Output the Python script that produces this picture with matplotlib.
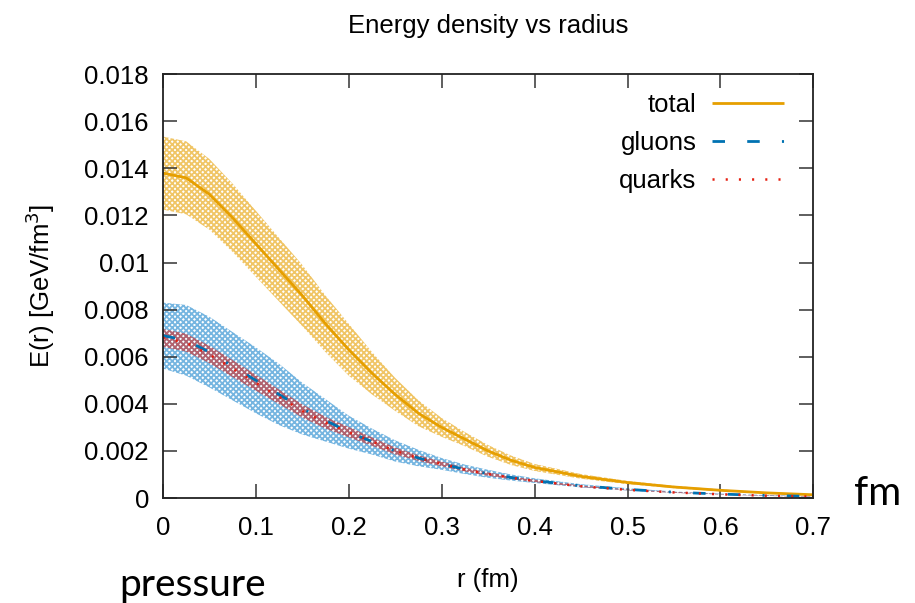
import numpy as np
import matplotlib
matplotlib.use("Agg")
import matplotlib.pyplot as plt

# values (GeV/fm^3)
r = [0.0, 0.025, 0.05, 0.075, 0.1, 0.125, 0.15, 0.175, 0.2, 0.225, 0.25, 0.275,
     0.3, 0.325, 0.35, 0.375, 0.4, 0.45, 0.5, 0.55, 0.6, 0.65, 0.7]

total = [0.0138, 0.0136, 0.0129, 0.0119, 0.0108, 0.0097, 0.0086, 0.0074,
         0.0063, 0.0053, 0.0044, 0.0036, 0.0030, 0.0025, 0.0020, 0.0016,
         0.0013, 0.00092, 0.00066, 0.00047, 0.00033, 0.00022, 0.00014]
total_err = [0.00155, 0.00155, 0.0015, 0.00145, 0.0014, 0.00135, 0.0013, 0.0012,
             0.0011, 0.0009, 0.0007, 0.00055, 0.0004, 0.0003, 0.00025, 0.0002,
             0.00015, 0.0001, 0.00007, 0.00005, 0.00004, 0.00003, 0.00002]

gluons = [0.0069, 0.0067, 0.0062, 0.0056, 0.0050, 0.0044, 0.0038, 0.0033,
          0.0028, 0.0024, 0.0020, 0.0017, 0.00145, 0.00122, 0.00103, 0.00087,
          0.00074, 0.00052, 0.00037, 0.00025, 0.00017, 0.00011, 0.00007]
gluons_err = [0.0014, 0.0015, 0.0015, 0.00145, 0.0014, 0.0013, 0.0011, 0.0009,
              0.0007, 0.00055, 0.00045, 0.00035, 0.00025, 0.0002, 0.00017, 0.00013,
              0.0001, 0.00007, 0.00005, 0.00003, 0.00002, 0.00002, 0.00001]

quarks = [0.0068, 0.0066, 0.0061, 0.0055, 0.0049, 0.0043, 0.0037, 0.0032,
          0.0028, 0.0024, 0.0020, 0.0017, 0.00145, 0.00121, 0.00102, 0.00086,
          0.00073, 0.0005, 0.00035, 0.00024, 0.00016, 0.0001, 0.00006]
quarks_err = [0.00038, 0.00038, 0.00037, 0.00036, 0.00034, 0.00031, 0.00028, 0.00025,
              0.00022, 0.00018, 0.00015, 0.00012, 0.0001, 0.00008, 0.00007, 0.00006,
              0.00005, 0.00003, 0.00002, 0.00002, 0.00001, 0.00001, 0.00001]

xticks = [0, 0.1, 0.2, 0.3, 0.4, 0.5, 0.6, 0.7]
xticklabels = ["0", "0.1", "0.2", "0.3", "0.4", "0.5", "0.6", "0.7"]
yticks = [0, 0.002, 0.004, 0.006, 0.008, 0.01, 0.012, 0.014, 0.016, 0.018]
yticklabels = ["0", "0.002", "0.004", "0.006", "0.008", "0.01", "0.012", "0.014", "0.016", "0.018"]

ORANGE = "#e69f00"
BLUE = "#0072b2"
LIGHTBLUE = "#3a96d4"
RED = "#e51e10"

plt.rcParams["font.family"] = ["Liberation Sans", "DejaVu Sans"]
plt.rcParams["hatch.linewidth"] = 1.3
plt.rcParams["lines.scale_dashes"] = False

fig = plt.figure(figsize=(9.15, 6.03), dpi=100)
ax = fig.add_axes([0.178, 0.174, 0.711, 0.703])

r_arr = np.array(r)


def band(vals, errs, color, alpha):
    v = np.array(vals)
    e = np.array(errs)
    ax.fill_between(r_arr, v - e, v + e, facecolor="none",
                    edgecolor=matplotlib.colors.to_rgba(color, alpha),
                    hatch="xxxxxx", linewidth=0)


band(total, total_err, ORANGE, 0.6)
band(gluons, gluons_err, LIGHTBLUE, 0.7)
band(quarks, quarks_err, RED, 0.55)

ax.plot(r, total, color=ORANGE, lw=2.0, label="total", solid_capstyle="butt")
ax.plot(r, gluons, color=BLUE, lw=2.0, label="gluons",
        dashes=(9, 16, 9, 16, 1.5, 16))
ax.plot(r, quarks, color=RED, lw=1.8, label="quarks", dashes=(1.5, 8))

ax.set_xlim(0, 0.7)
ax.set_ylim(0, 0.018)
ax.set_xticks(xticks)
ax.set_xticklabels(xticklabels)
ax.set_yticks(yticks)
ax.set_yticklabels(yticklabels)
ax.tick_params(direction="in", length=10, width=1.1, top=True, right=True,
               labelsize=18.5, pad=10, color="#333333")
ax.tick_params(axis="x", pad=13)
for sp in ax.spines.values():
    sp.set_linewidth(1.3)
    sp.set_color("#222222")

ax.set_title("Energy density vs radius", fontsize=18.5, pad=30)
ax.set_xlabel("r (fm)", fontsize=18.5, labelpad=20)
ax.set_ylabel("E(r) [GeV/fm$^3$]", fontsize=18.5, labelpad=20)

leg = ax.legend(loc="upper right", bbox_to_anchor=(0.99, 1.01), frameon=False,
                markerfirst=False, fontsize=18.5, handlelength=2.8,
                handletextpad=0.6, labelspacing=0.55)

fig.text(0.959, 0.182, "fm", fontsize=29, family="Lato", ha="center", va="center")
fig.text(0.210, 0.030, "pressure", fontsize=28, family="Lato", ha="center", va="center")

fig.savefig("out.png", dpi=100)
